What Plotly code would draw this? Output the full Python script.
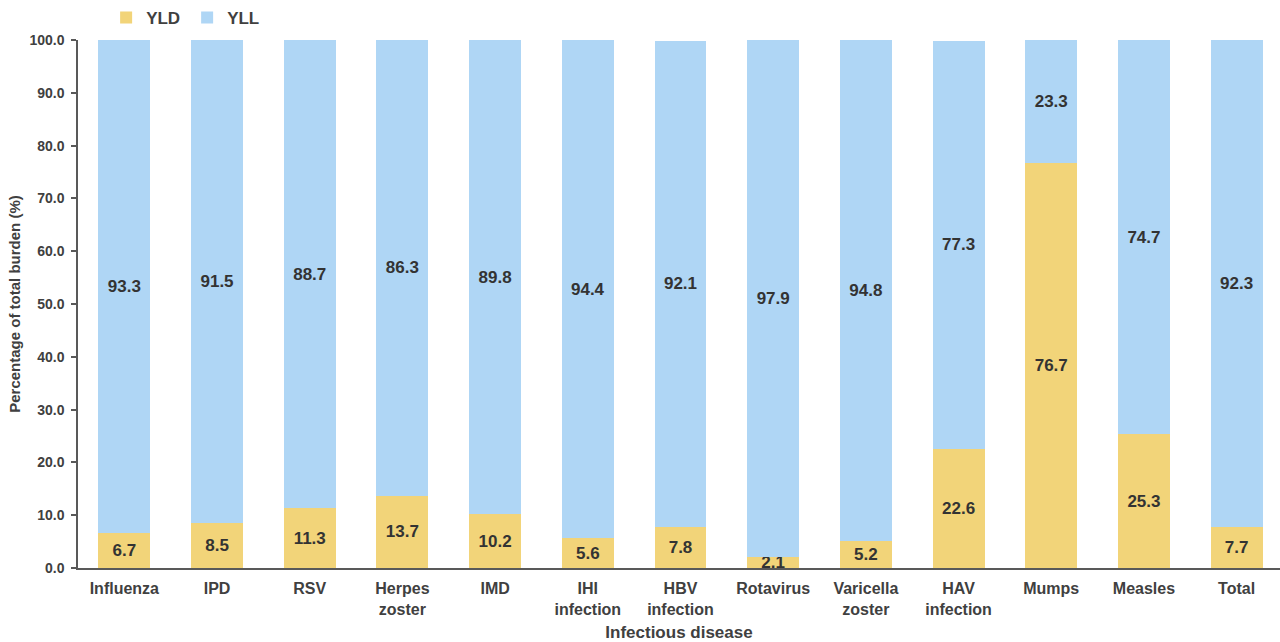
import plotly.graph_objects as go

diseases = ["Influenza", "IPD", "RSV", "Herpes<br>zoster", "IMD", "IHI<br>infection",
            "HBV<br>infection", "Rotavirus", "Varicella<br>zoster", "HAV<br>infection",
            "Mumps", "Measles", "Total"]
yld = [6.7, 8.5, 11.3, 13.7, 10.2, 5.6, 7.8, 2.1, 5.2, 22.6, 76.7, 25.3, 7.7]
yll = [93.3, 91.5, 88.7, 86.3, 89.8, 94.4, 92.1, 97.9, 94.8, 77.3, 23.3, 74.7, 92.3]
y_ticks = [0, 10, 20, 30, 40, 50, 60, 70, 80, 90, 100]

FONT = "Arial, Liberation Sans, sans-serif"
TXT = "#404040"
YLD_COLOR = "#F2D479"
YLL_COLOR = "#AFD6F5"

fig = go.Figure()
for name, vals, color in [("YLD", yld, YLD_COLOR), ("YLL", yll, YLL_COLOR)]:
    fig.add_trace(go.Bar(
        name=name, x=diseases, y=vals, marker=dict(color=color, line=dict(width=0)),
        text=[f"{v:.1f}" for v in vals], textposition="inside",
        insidetextanchor="middle", textangle=0,
        textfont=dict(family=FONT, size=17, color="#333333", weight="bold"),
        cliponaxis=False,
    ))

fig.update_layout(
    barmode="stack", bargap=0.44,
    width=1280, height=642,
    margin=dict(l=78, r=0, t=40, b=74, autoexpand=False),
    paper_bgcolor="white", plot_bgcolor="white",
    font=dict(family=FONT, color=TXT),
    uniformtext=dict(minsize=17, mode="show"),
    legend=dict(orientation="h", x=0.0234, xanchor="left",
                yref="container", y=1.0, yanchor="top",
                font=dict(family=FONT, size=17, color=TXT, weight="bold"),
                itemwidth=30, entrywidth=36, traceorder="normal"),
    xaxis=dict(
        range=[-0.5, 12.468], showline=True, linecolor="#595959", linewidth=1.5,
        ticks="", showgrid=False, ticklabelstandoff=5,
        tickfont=dict(family=FONT, size=16, color=TXT, weight="bold"),
        title=dict(text="Infectious disease", standoff=13,
                   font=dict(family=FONT, size=17, color=TXT, weight="bold")),
    ),
    yaxis=dict(
        range=[0, 100], tickvals=y_ticks, tickformat=".1f",
        showline=True, linecolor="#595959", linewidth=1.5,
        ticks="outside", ticklen=5, tickcolor="#595959", tickwidth=1.5,
        showgrid=False, zeroline=False, ticklabelstandoff=4,
        tickfont=dict(family=FONT, size=14, color=TXT, weight="bold"),
        title=dict(text="Percentage of total burden (%)", standoff=5,
                   font=dict(family=FONT, size=15, color=TXT, weight="bold")),
    ),
)

fig.write_html("out.html")
